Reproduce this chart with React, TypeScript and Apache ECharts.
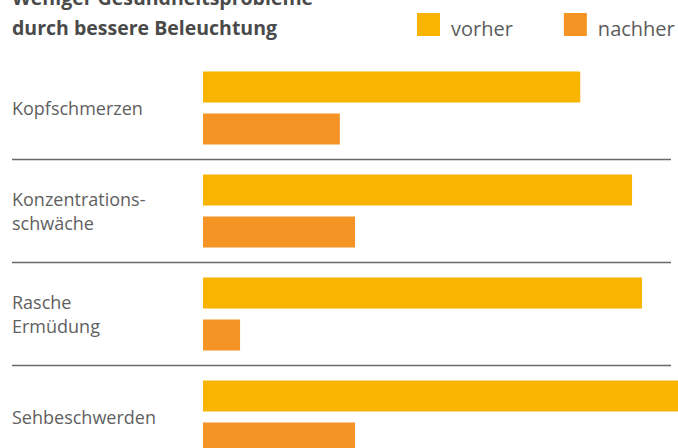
import React, { useEffect, useRef } from "react";
import * as echarts from "echarts";

const titleLines = ["Weniger Gesundheitsprobleme", "durch bessere Beleuchtung"];
const categories = ["Kopfschmerzen", "Konzentrations-\nschwäche", "Rasche\nErmüdung", "Sehbeschwerden"];
const seriesNames = ["vorher", "nachher"];
const vorherValues = [79.4, 90.3, 92.4, 100];
const nachherValues = [28.8, 32.0, 7.8, 32.0];
const colors = ["#F8B400", "#F39425"];

export default function App() {
  const ref = useRef<HTMLDivElement>(null);
  useEffect(() => {
    if (!ref.current) return;
    const chart = echarts.init(ref.current, null, { renderer: "svg" });
    const font = "'Open Sans', sans-serif";
    chart.setOption({
      animation: false,
      title: {
        text: titleLines.join("\n"),
        left: 12,
        top: 12,
        padding: 0,
        textStyle: {
          fontFamily: font,
          fontSize: 19.5,
          fontWeight: "bold",
          lineHeight: 30,
          color: "#4a4a4a",
        },
      },
      legend: {
        left: 417,
        top: 43,
        padding: 0,
        itemWidth: 23,
        itemHeight: 31,
        itemGap: 51,
        icon: "path://M0,0H23V23H0Z M0,31L0,31",
        data: seriesNames,
        textStyle: {
          fontFamily: font,
          fontSize: 20,
          color: "#5c5c5c",
          padding: [0, 0, 0, 6],
        },
      },
      grid: { left: 203, right: 7, top: 86.5, bottom: 11.5, containLabel: false },
      xAxis: {
        type: "value",
        min: 0,
        max: 98.5,
        show: false,
      },
      yAxis: {
        type: "category",
        inverse: true,
        data: categories,
        axisLine: { show: false },
        axisTick: {
          show: true,
          length: 191,
          interval: (i: number) => i > 0,
          lineStyle: { color: "#6a6a6a", width: 1.3 },
        },
        splitLine: {
          show: true,
          showMinLine: false,
          lineStyle: { color: "#6a6a6a", width: 1.3 },
        },
        axisLabel: {
          margin: 191,
          align: "left",
          fontFamily: font,
          fontSize: 18,
          lineHeight: 23.5,
          color: "#5f5f5f",
          padding: [6, 0, 0, 0],
        },
      },
      series: [
        {
          name: seriesNames[0],
          type: "bar",
          data: vorherValues,
          barWidth: 31,
          barGap: "35%",
          clip: false,
          itemStyle: { color: colors[0] },
        },
        {
          name: seriesNames[1],
          type: "bar",
          data: nachherValues,
          barWidth: 31,
          barGap: "35%",
          clip: false,
          itemStyle: { color: colors[1] },
        },
      ],
    });
    return () => chart.dispose();
  }, []);
  return (
    <div style={{ position: "fixed", left: 0, top: 0, width: 678, height: 448, overflow: "hidden", background: "#fff" }}>
      <div ref={ref} style={{ position: "absolute", left: 0, top: -30, width: 678, height: 510 }} />
    </div>
  );
}
